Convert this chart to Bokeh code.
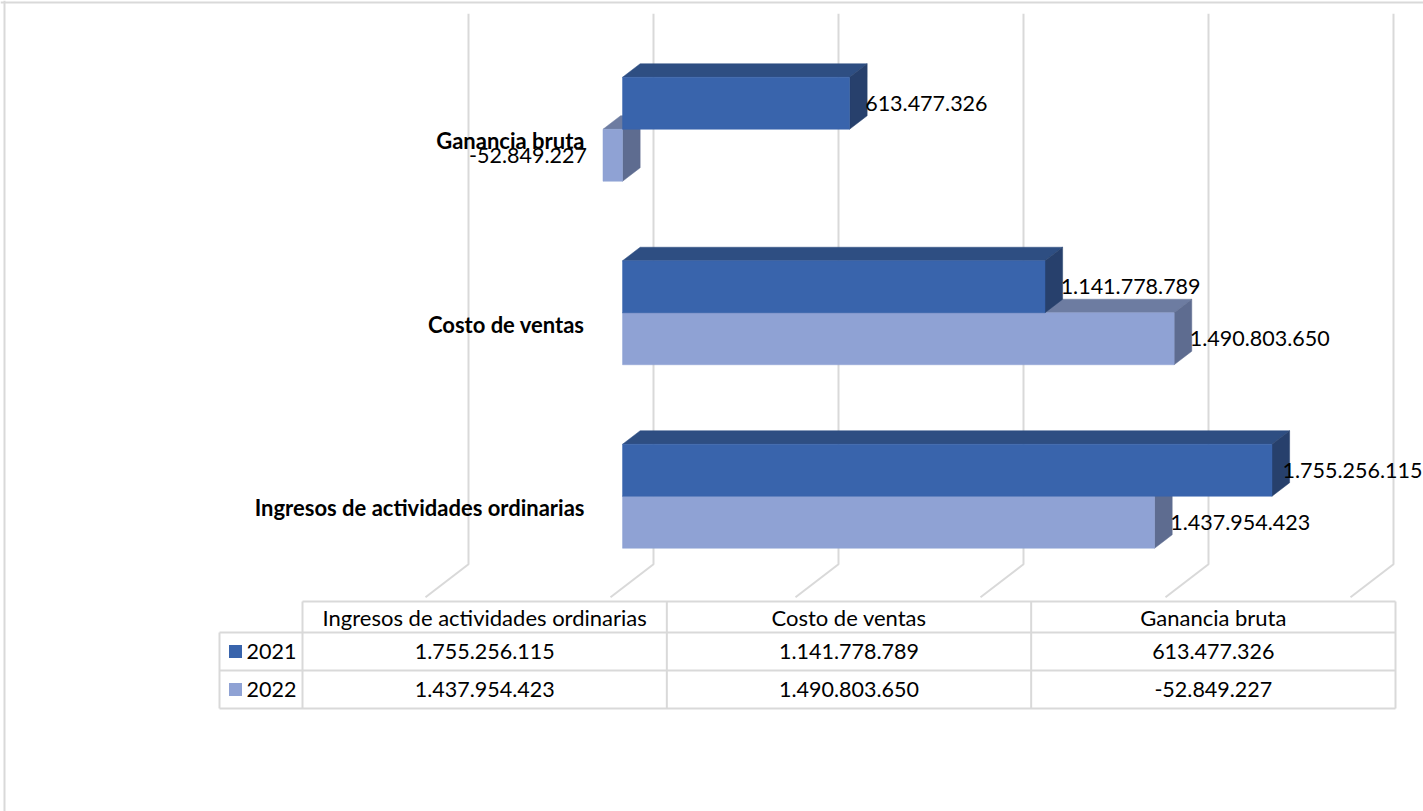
from bokeh.plotting import figure
from bokeh.models import Range1d, Span
from bokeh.core.properties import value
from bokeh.embed import file_html
from bokeh.resources import INLINE

# ---------------- data ----------------
categories = ["Ingresos de actividades ordinarias", "Costo de ventas", "Ganancia bruta"]
series_names = ["2021", "2022"]
values_2021 = [1755256115, 1141778789, 613477326]
values_2022 = [1437954423, 1490803650, -52849227]
grid_values = [-500e6, 0, 500e6, 1000e6, 1500e6, 2000e6]


def fmt(v):
    return f"{v:,}".replace(",", ".")


# ---------------- layout / style ----------------
W, H = 1423, 811
FONT = value("Lato")
GRID_COLOR = "#d9d9d9"
COL_2021 = {"front": "#3964ac", "top": "#2e4e82", "side": "#27406c"}
COL_2022 = {"front": "#8fa2d4", "top": "#6d7ca1", "side": "#5e6c90"}

ZERO_PX = 610.0          # frame px of value 0 on the front plane
PX_PER_VALUE = 370.0 / 1e9
CAT0_PX = 505.0          # frame px (from top) of first category centre
PX_PER_CAT = 183.5
DX = 43.0 / PX_PER_VALUE  # full depth, in value units
DY = 33.0 / PX_PER_CAT    # full depth, in category units
F_FRONT, F_BACK = 0.28, 0.69
BAR_H = 52.0 / PX_PER_CAT
LABEL_MAX_X = (1284.0 - ZERO_PX) / PX_PER_VALUE   # keep labels inside chart area

x_range = Range1d(-ZERO_PX / PX_PER_VALUE, (W - ZERO_PX) / PX_PER_VALUE)
y_range = Range1d(-(H - CAT0_PX) / PX_PER_CAT, CAT0_PX / PX_PER_CAT)

# table ranges (columns / rows units)
TBL_COL0_PX = 302.0
COL_W = 364.33
ROW0_PX = 613.0
ROW_H = 38.0
tx_range = Range1d(-TBL_COL0_PX / COL_W - 0.5, (W - TBL_COL0_PX) / COL_W - 0.5)
ty_range = Range1d(start=(H - ROW0_PX) / ROW_H, end=-ROW0_PX / ROW_H)

p = figure(width=W, height=H, x_range=x_range, y_range=y_range,
           output_backend="svg", toolbar_location=None, title=None,
           x_axis_type=None, y_axis_type=None, min_border=0,
           outline_line_color=None, background_fill_color="white",
           border_fill_color="white")
p.extra_x_ranges = {"tx": tx_range}
p.extra_y_ranges = {"ty": ty_range}

# outer chart border (left, top)
p.add_layout(Span(location=(4 - ZERO_PX) / PX_PER_VALUE, dimension="height",
                  line_color=GRID_COLOR, line_width=2))
p.add_layout(Span(location=(CAT0_PX - 2) / PX_PER_CAT, dimension="width",
                  line_color=GRID_COLOR, line_width=2))

# ---------------- 3D floor + back wall gridlines ----------------
n = len(categories)
c_lo, c_hi = -0.5, n - 0.5
gx = [[g, g + DX, g + DX] for g in grid_values]
gy = [[c_lo, c_lo + DY, c_hi + DY] for g in grid_values]
p.multi_line(gx, gy, line_color=GRID_COLOR, line_width=2)


# ---------------- bars ----------------
def draw_series(vals, y_off0, y_off1, cols):
    tops_x, tops_y, sides_x, sides_y = [], [], [], []
    left, right, bottom, top = [], [], [], []
    for i, v in enumerate(vals):
        x0, x1 = min(0, v), max(0, v)
        y0, y1 = i + y_off0, i + y_off1
        fx, fy = F_FRONT * DX, F_FRONT * DY
        bx, by = F_BACK * DX, F_BACK * DY
        tops_x.append([x0 + fx, x1 + fx, x1 + bx, x0 + bx])
        tops_y.append([y1 + fy, y1 + fy, y1 + by, y1 + by])
        sides_x.append([x1 + fx, x1 + bx, x1 + bx, x1 + fx])
        sides_y.append([y0 + fy, y0 + by, y1 + by, y1 + fy])
        left.append(x0 + fx)
        right.append(x1 + fx)
        bottom.append(y0 + fy)
        top.append(y1 + fy)
    p.patches(tops_x, tops_y, fill_color=cols["top"], line_color=cols["top"], line_width=0.5)
    p.patches(sides_x, sides_y, fill_color=cols["side"], line_color=cols["side"], line_width=0.5)
    p.quad(left=left, right=right, bottom=bottom, top=top,
           fill_color=cols["front"], line_color=cols["front"], line_width=0.5)


draw_series(values_2022, -BAR_H, 0.0, COL_2022)
draw_series(values_2021, 0.0, BAR_H, COL_2021)


# ---------------- data labels ----------------
def draw_labels(vals, y_mid_off):
    px, py, pt, nx, ny, nt = [], [], [], [], [], []
    for i, v in enumerate(vals):
        yc = i + y_mid_off + F_FRONT * DY
        if v >= 0:
            px.append(min(v + F_BACK * DX, LABEL_MAX_X))
            py.append(yc)
            pt.append(fmt(v))
        else:
            nx.append(v + F_FRONT * DX)
            ny.append(yc)
            nt.append(fmt(v))
    if pt:
        p.text(px, py, text=pt, text_font=FONT, text_font_size="21.5px",
               text_align="left", text_baseline="middle", x_offset=-2, text_color="black")
    if nt:
        p.text(nx, ny, text=nt, text_font=FONT, text_font_size="21.5px",
               text_align="right", text_baseline="middle", x_offset=-16, text_color="black")


draw_labels(values_2021, BAR_H / 2)
draw_labels(values_2022, -BAR_H / 2)

# ---------------- category labels ----------------
p.text([0] * n, list(range(n)), text=categories, text_font=FONT, text_font_size="22px",
       text_font_style="bold", text_align="right", text_baseline="middle",
       x_offset=-26, y_offset=2, text_color="black")

# ---------------- data table ----------------
HEADER_TOP = -12.0 / ROW_H
LEG_LEFT = -0.5 - 83.0 / COL_W
LEG_KEY = -0.5 - 67.0 / COL_W
last = n - 0.5
rows = [1, 2]
tbl_xs, tbl_ys = [], []
# horizontal lines
tbl_xs.append([-0.5, last]); tbl_ys.append([HEADER_TOP, HEADER_TOP])
for r in [0.5, 1.5, 2.5]:
    tbl_xs.append([LEG_LEFT, last]); tbl_ys.append([r, r])
# vertical lines
tbl_xs.append([LEG_LEFT, LEG_LEFT]); tbl_ys.append([0.5, 2.5])
for u in [-0.5 + k for k in range(n + 1)]:
    tbl_xs.append([u, u]); tbl_ys.append([HEADER_TOP, 2.5])
p.multi_line(tbl_xs, tbl_ys, line_color=GRID_COLOR, line_width=2,
             x_range_name="tx", y_range_name="ty")

header_mid = (HEADER_TOP + 0.5) / 2
p.text(list(range(n)), [header_mid] * n, text=categories, text_font=FONT,
       text_font_size="22px", text_align="center", text_baseline="middle",
       text_color="black", x_range_name="tx", y_range_name="ty")
for r, vals in zip(rows, [values_2021, values_2022]):
    p.text(list(range(n)), [r] * n, text=[fmt(v) for v in vals], text_font=FONT,
           text_font_size="21.5px", text_align="center", text_baseline="middle",
           text_color="black", x_range_name="tx", y_range_name="ty")

p.rect([LEG_KEY] * 2, rows, width=13, height=13, width_units="screen", height_units="screen",
       fill_color=[COL_2021["front"], COL_2022["front"]], line_color=None,
       x_range_name="tx", y_range_name="ty")
p.text([LEG_KEY] * 2, rows, text=series_names, text_font=FONT, text_font_size="21.5px",
       text_align="left", text_baseline="middle", x_offset=11, text_color="black",
       x_range_name="tx", y_range_name="ty")

open("out.html", "w").write(file_html(p, INLINE))
